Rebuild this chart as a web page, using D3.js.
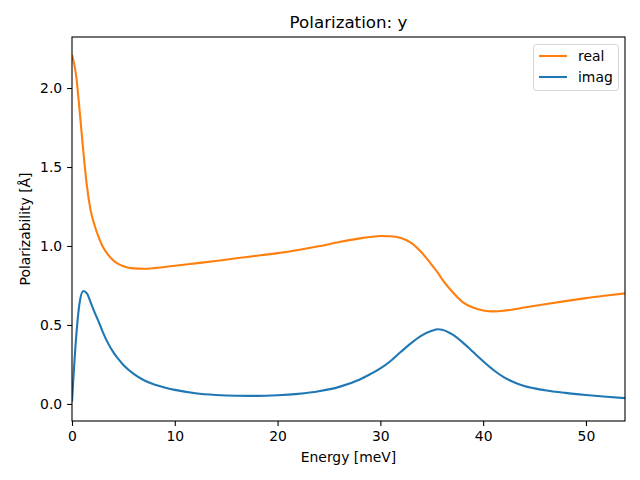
<!DOCTYPE html>
<html>
<head>
<meta charset="utf-8">
<script src="https://cdn.jsdelivr.net/npm/d3@7"></script>
<style>
body { margin: 0; background: #fff; }
text { font-family: "DejaVu Sans", sans-serif; }
</style>
</head>
<body>
<svg id="chart" width="640" height="480"></svg>
<script>
const energy = [0, 0.4, 0.75, 1.1, 1.45, 1.8, 2.2, 2.6, 3.0, 3.5, 4, 4.5, 5, 6, 7, 8, 9, 10, 12, 14, 16, 18, 20, 22, 24, 26, 28, 29, 30, 31, 32, 33, 34, 35, 35.6, 36, 37, 38, 39, 40, 41, 42, 43, 44, 46, 48, 50, 52, 53.8];
const realVals = [2.21, 2.08, 1.85, 1.60, 1.38, 1.23, 1.13, 1.055, 0.995, 0.945, 0.91, 0.887, 0.872, 0.858, 0.856, 0.86, 0.867, 0.875, 0.89, 0.905, 0.922, 0.938, 0.955, 0.975, 0.998, 1.025, 1.048, 1.057, 1.063, 1.062, 1.05, 1.02, 0.96, 0.88, 0.83, 0.79, 0.71, 0.645, 0.61, 0.592, 0.586, 0.59, 0.599, 0.61, 0.631, 0.651, 0.67, 0.686, 0.70];
const imagVals = [0.015, 0.42, 0.645, 0.715, 0.70, 0.645, 0.58, 0.52, 0.455, 0.385, 0.33, 0.285, 0.247, 0.19, 0.15, 0.123, 0.104, 0.089, 0.068, 0.057, 0.052, 0.051, 0.055, 0.064, 0.08, 0.108, 0.155, 0.188, 0.225, 0.272, 0.33, 0.385, 0.432, 0.463, 0.473, 0.47, 0.44, 0.39, 0.33, 0.27, 0.215, 0.17, 0.137, 0.113, 0.087, 0.07, 0.057, 0.046, 0.037];
const xTicks = [0, 10, 20, 30, 40, 50];
const yTicks = [0.0, 0.5, 1.0, 1.5, 2.0];
const seriesNames = ["real", "imag"];
const seriesColors = ["#ff7f0e", "#1f77b4"];
const titleText = "Polarization: y";
const xLabel = "Energy [meV]";
const yLabel = "Polarizability [Å]";

const svg = d3.select("#chart");
const L = 72, R = 625, T = 37, B = 421;
const x = d3.scaleLinear().domain([0, 53.8]).range([L, R]);
const y = d3.scaleLinear().domain([-0.108, 2.323]).range([B, T]);

svg.append("clipPath").attr("id", "clip").append("rect")
  .attr("x", L).attr("y", T).attr("width", R - L).attr("height", B - T);

const seriesData = [realVals, imagVals];
const line = d3.line().x(d => x(d[0])).y(d => y(d[1])).curve(d3.curveMonotoneX);
seriesData.forEach((vals, i) => {
  svg.append("path")
    .datum(energy.map((e, j) => [e, vals[j]]))
    .attr("d", line)
    .attr("fill", "none")
    .attr("stroke", seriesColors[i])
    .attr("stroke-width", 2.1)
    .attr("clip-path", "url(#clip)");
});

const xAxis = svg.append("g").attr("transform", `translate(0,${B})`)
  .call(d3.axisBottom(x).tickValues(xTicks).tickFormat(d3.format("d")).tickSize(4.9).tickPadding(4.9));
const yAxis = svg.append("g").attr("transform", `translate(${L},0)`)
  .call(d3.axisLeft(y).tickValues(yTicks).tickFormat(d3.format(".1f")).tickSize(4.9).tickPadding(4.9));
[xAxis, yAxis].forEach(g => {
  g.select(".domain").remove();
  g.selectAll(".tick line").attr("stroke", "#000").attr("stroke-width", 1.1);
  g.selectAll(".tick text").attr("font-size", 13.9).attr("fill", "#000")
    .attr("font-family", "DejaVu Sans, sans-serif");
});

svg.append("rect").attr("x", L).attr("y", T).attr("width", R - L).attr("height", B - T)
  .attr("fill", "none").attr("stroke", "#000").attr("stroke-width", 1.1);

svg.append("text").attr("x", (L + R) / 2).attr("y", 28).attr("text-anchor", "middle")
  .attr("font-size", 16.7).text(titleText);
svg.append("text").attr("x", (L + R) / 2).attr("y", 462).attr("text-anchor", "middle")
  .attr("font-size", 13.9).text(xLabel);
svg.append("text").attr("transform", `translate(30,${(T + B) / 2}) rotate(-90)`)
  .attr("text-anchor", "middle").attr("font-size", 13.9).text(yLabel);

const lg = svg.append("g");
lg.append("rect").attr("x", 533.5).attr("y", 44.5).attr("width", 85).attr("height", 46)
  .attr("rx", 3).attr("fill", "#fff").attr("fill-opacity", 0.8)
  .attr("stroke", "#d6d6d6").attr("stroke-width", 1);
seriesNames.forEach((n, i) => {
  const yy = 56 + i * 21;
  lg.append("line").attr("x1", 539).attr("x2", 567).attr("y1", yy).attr("y2", yy)
    .attr("stroke", seriesColors[i]).attr("stroke-width", 2.1);
  lg.append("text").attr("x", 578).attr("y", yy + 5).attr("font-size", 13.9).text(n);
});
</script>
</body>
</html>
